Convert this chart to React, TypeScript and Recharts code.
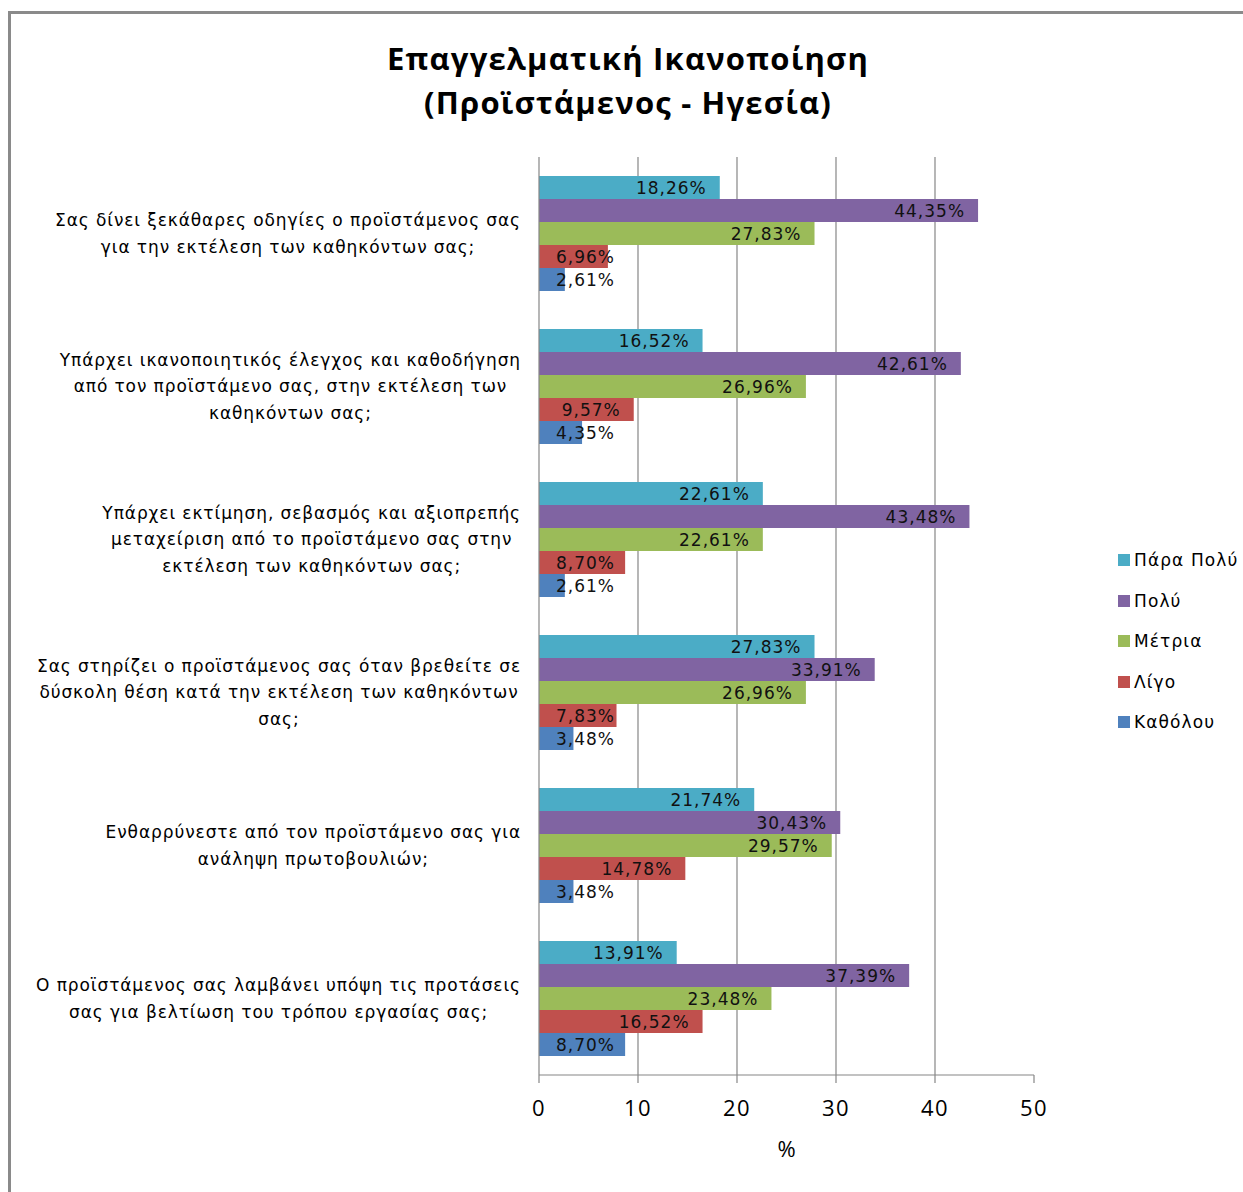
import React from 'react';
import { BarChart, Bar, XAxis, YAxis, CartesianGrid, LabelList } from 'recharts';

const categories = [
  'Σας δίνει ξεκάθαρες οδηγίες ο προϊστάμενος σας για την εκτέλεση των καθηκόντων σας;',
  'Υπάρχει ικανοποιητικός έλεγχος και καθοδήγηση από τον προϊστάμενο σας, στην εκτέλεση των καθηκόντων σας;',
  'Υπάρχει εκτίμηση, σεβασμός και αξιοπρεπής μεταχείριση από το προϊστάμενο σας στην εκτέλεση των καθηκόντων σας;',
  'Σας στηρίζει ο προϊστάμενος σας όταν βρεθείτε σε δύσκολη θέση κατά την εκτέλεση των καθηκόντων σας;',
  'Ενθαρρύνεστε από τον προϊστάμενο σας για ανάληψη πρωτοβουλιών;',
  'Ο προϊστάμενος σας λαμβάνει υπόψη τις προτάσεις σας για βελτίωση του τρόπου εργασίας σας;',
];

const categoryLines = [
  ['Σας δίνει ξεκάθαρες οδηγίες ο προϊστάμενος σας', 'για την εκτέλεση των καθηκόντων σας;'],
  ['Υπάρχει ικανοποιητικός έλεγχος και καθοδήγηση', 'από τον προϊστάμενο σας, στην εκτέλεση των', 'καθηκόντων σας;'],
  ['Υπάρχει εκτίμηση, σεβασμός και αξιοπρεπής', 'μεταχείριση από το προϊστάμενο σας στην', 'εκτέλεση των καθηκόντων σας;'],
  ['Σας στηρίζει ο προϊστάμενος σας όταν βρεθείτε σε', 'δύσκολη θέση κατά την εκτέλεση των καθηκόντων', 'σας;'],
  ['Ενθαρρύνεστε από τον προϊστάμενο σας για', 'ανάληψη πρωτοβουλιών;'],
  ['Ο προϊστάμενος σας λαμβάνει υπόψη τις προτάσεις', 'σας για βελτίωση του τρόπου εργασίας σας;'],
];

const seriesNames = ['Πάρα Πολύ', 'Πολύ', 'Μέτρια', 'Λίγο', 'Καθόλου'];
const seriesColors = ['#4BACC6', '#8064A2', '#9BBB59', '#C0504D', '#4F81BD'];

const paraPoly = [18.26, 16.52, 22.61, 27.83, 21.74, 13.91];
const poly = [44.35, 42.61, 43.48, 33.91, 30.43, 37.39];
const metria = [27.83, 26.96, 22.61, 26.96, 29.57, 23.48];
const ligo = [6.96, 9.57, 8.7, 7.83, 14.78, 16.52];
const katholou = [2.61, 4.35, 2.61, 3.48, 3.48, 8.7];

const xTicks = [0, 10, 20, 30, 40, 50];

const seriesValues = [paraPoly, poly, metria, ligo, katholou];
const data = categories.map((name, i) => {
  const row: any = { name };
  seriesNames.forEach((s, k) => {
    row[s] = seriesValues[k][i];
  });
  return row;
});

const LABEL_FONT = "'DejaVu Sans', sans-serif";
const CAT_FONT_SIZE = 17;
const CAT_LS = 0.9;
const VAL_FONT_SIZE = 17;
const VAL_LS = 1.0;

let canvasCtx: CanvasRenderingContext2D | null = null;
function measure(text: string, font: string, ls: number): number {
  if (!canvasCtx) {
    const c = document.createElement('canvas');
    canvasCtx = c.getContext('2d');
  }
  if (!canvasCtx) return text.length * 8;
  canvasCtx.font = font;
  return canvasCtx.measureText(text).width + ls * text.length;
}

const fmt = (v: number) => v.toFixed(2).replace('.', ',') + '%';

const CategoryTick = (props: any) => {
  const { y, payload } = props;
  const lines = categoryLines[payload.index] || [];
  const font = `${CAT_FONT_SIZE}px 'DejaVu Sans'`;
  const maxW = Math.max(...lines.map((l) => measure(l, font, CAT_LS)));
  const cx = 521 - maxW / 2;
  const lh = 26.3;
  const startY = y - ((lines.length - 1) * lh) / 2;
  return (
    <g>
      {lines.map((l, i) => (
        <text
          key={i}
          x={cx}
          y={startY + i * lh}
          dy="0.35em"
          textAnchor="middle"
          fontFamily={LABEL_FONT}
          fontSize={CAT_FONT_SIZE}
          letterSpacing={CAT_LS}
          fill="#000"
        >
          {l}
        </text>
      ))}
    </g>
  );
};

const BarValueLabel = (props: any) => {
  const { x, y, width, height, value } = props;
  const txt = fmt(value);
  const w = measure(txt, `${VAL_FONT_SIZE}px 'DejaVu Sans'`, VAL_LS);
  const end = Math.max(x + width - 13, x + 17 + w);
  return (
    <text
      x={end}
      y={y + height / 2}
      dy="0.36em"
      textAnchor="end"
      fontFamily={LABEL_FONT}
      fontSize={VAL_FONT_SIZE}
      letterSpacing={VAL_LS}
      fill="#111"
    >
      {txt}
    </text>
  );
};

const LegendBox = () => (
  <div
    style={{
      position: 'absolute',
      left: 1118,
      top: 540,
      fontFamily: LABEL_FONT,
      fontSize: 17,
      letterSpacing: 1.1,
      color: '#000',
    }}
  >
    {seriesNames.map((s, i) => (
      <div key={s} style={{ display: 'flex', alignItems: 'center', height: 40.5, whiteSpace: 'nowrap' }}>
        <span style={{ display: 'inline-block', width: 12, height: 12, background: seriesColors[i], marginRight: 4 }} />
        <span>{s}</span>
      </div>
    ))}
  </div>
);

export default function App() {
  return (
    <div style={{ position: 'absolute', left: 0, top: 0, width: 1243, height: 1192, background: '#fff', overflow: 'hidden' }}>
      <div
        style={{
          position: 'absolute',
          left: 8,
          top: 11,
          width: 1300,
          height: 1300,
          borderTop: '3px solid #8a8a8a',
          borderLeft: '3px solid #8a8a8a',
        }}
      />
      <div
        style={{
          position: 'absolute',
          left: 0,
          width: 1256,
          top: 36,
          textAlign: 'center',
          fontFamily: "'Open Sans', sans-serif",
          fontWeight: 700,
          fontSize: 31,
          letterSpacing: 1.2,
          lineHeight: '44px',
          color: '#000',
        }}
      >
        <div>Επαγγελματική Ικανοποίηση</div>
        <div>(Προϊστάμενος - Ηγεσία)</div>
      </div>
      <div style={{ position: 'absolute', left: 0, top: 0 }}>
        <BarChart
          width={1243}
          height={1192}
          data={data}
          layout="vertical"
          margin={{ top: 157, right: 209, bottom: 20, left: 0 }}
          barGap={0}
          barSize={23}
        >
          <CartesianGrid horizontal={false} vertical={true} stroke="#868686" strokeWidth={1.2} verticalValues={[10, 20, 30, 40]} />
          <XAxis
            type="number"
            domain={[0, 50]}
            ticks={xTicks}
            interval={0}
            height={97}
            axisLine={{ stroke: '#868686', strokeWidth: 1.2 }}
            tickLine={{ stroke: '#868686', strokeWidth: 1.2 }}
            tickSize={8}
            tickMargin={17}
            tick={{ fontFamily: "'Open Sans', sans-serif", fontSize: 22, letterSpacing: 1.5, fill: '#000' }}
            label={{ value: '%', position: 'insideBottom', offset: 15, fontFamily: "'Open Sans', sans-serif", fontSize: 22, fill: '#000' }}
          />
          <YAxis
            type="category"
            dataKey="name"
            width={539}
            axisLine={{ stroke: '#868686', strokeWidth: 1.2 }}
            tickLine={false}
            tick={<CategoryTick />}
            interval={0}
          />
          {seriesNames.map((s, i) => (
            <Bar key={s} dataKey={s} fill={seriesColors[i]} isAnimationActive={false}>
              <LabelList dataKey={s} content={<BarValueLabel />} />
            </Bar>
          ))}
        </BarChart>
      </div>
      <LegendBox />
    </div>
  );
}
